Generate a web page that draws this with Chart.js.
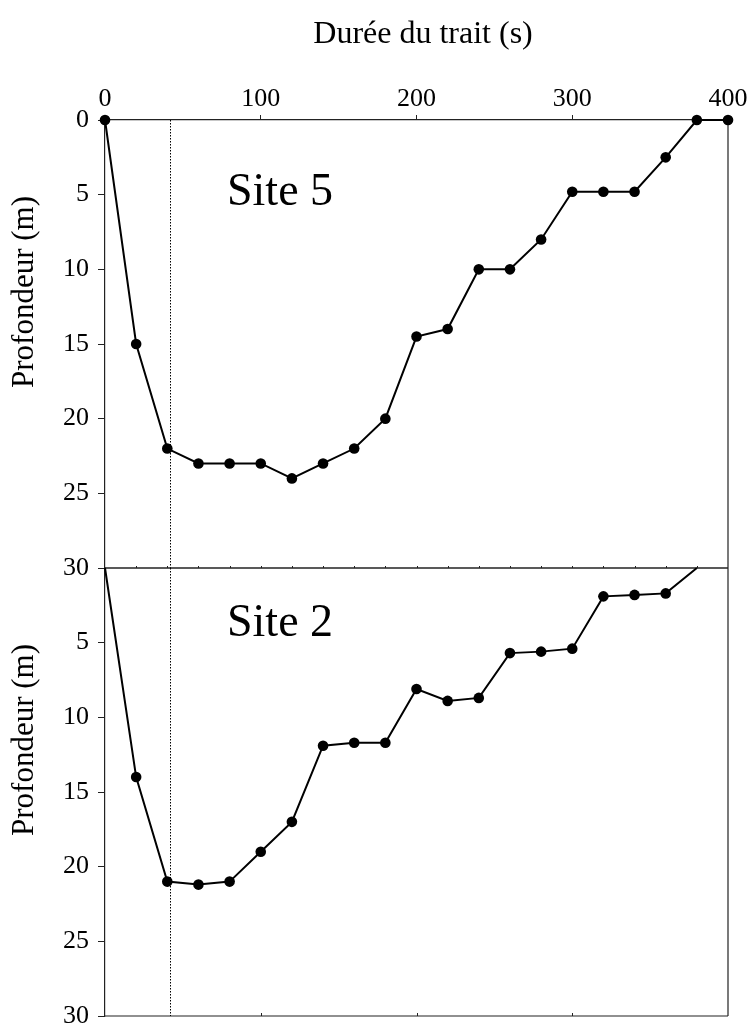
<!DOCTYPE html>
<html><head><meta charset="utf-8">
<script src="https://cdn.jsdelivr.net/npm/chart.js@4.4.0/dist/chart.umd.min.js"></script>
<style>
html,body{margin:0;padding:0;background:#fff;width:752px;height:1025px;overflow:hidden}
#wrap{position:relative;width:752px;height:1025px}
canvas{position:absolute;left:0}
</style></head><body>
<div id="wrap">
<canvas id="c1" width="752" height="600" style="top:0px"></canvas>
<canvas id="c2" width="752" height="515" style="top:530px"></canvas>
</div>
<script>
// ---- data ----
const durationsSite5 = [0,20,40,60,80,100,120,140,160,180,200,220,240,260,280,300,320,340,360,380,400];
const depthSite5     = [0,15,22,23,23,23,24,23,22,20,14.5,14,10,10,8,4.8,4.8,4.8,2.5,0,0];
const durationsSite2 = [0,20,40,60,80,100,120,140,160,180,200,220,240,260,280,300,320,340,360,380];
const depthSite2     = [0,14,21,21.2,21,19,17,11.9,11.7,11.7,8.1,8.9,8.7,5.7,5.6,5.4,1.9,1.8,1.7,0];
const xTickValues = [0,100,200,300,400];
const yTickValues = [0,5,10,15,20,25,30];
const refDuration = [42];
const xTitle = 'Durée du trait (s)';
const yTitle = 'Profondeur (m)';
const siteNames = ['Site 5','Site 2'];

const SERIF = "'Liberation Serif','Times New Roman',serif";

function pts(xs, ys){ return xs.map((x,i)=>({x:x, y:ys[i]})); }

function framePlugin(opts){
  return {
    id:'frame'+opts.name,
    beforeDatasetsDraw(chart){
      const ctx = chart.ctx, a = chart.chartArea, xs = chart.scales.x;
      ctx.save();
      ctx.strokeStyle = '#222'; ctx.lineWidth = 1.2;
      ctx.beginPath();
      ctx.moveTo(a.right, a.top); ctx.lineTo(a.right, a.bottom);
      ctx.moveTo(a.left, a.bottom); ctx.lineTo(a.right, a.bottom);
      if (opts.topLine){ ctx.moveTo(a.left, a.top); ctx.lineTo(a.right, a.top); }
      ctx.stroke();
      ctx.lineWidth = 1;
      if (opts.minorTop){
        ctx.beginPath();
        for (let v=20; v<400; v+=20){ const px = Math.round(xs.getPixelForValue(v))+0.5; ctx.moveTo(px, a.top); ctx.lineTo(px, a.top-2); }
        ctx.stroke();
      }
      if (opts.bottomTicks){
        ctx.beginPath();
        [100,200,300].forEach(v=>{ const px = Math.round(xs.getPixelForValue(v))+0.5; ctx.moveTo(px, a.bottom); ctx.lineTo(px, a.bottom-3); });
        ctx.stroke();
      }
      // dotted reference line
      ctx.strokeStyle = '#000'; ctx.lineWidth = 1; ctx.setLineDash([1.5,1.5]);
      refDuration.forEach(v=>{
        const px = Math.round(xs.getPixelForValue(v))+0.5;
        ctx.beginPath(); ctx.moveTo(px, a.top); ctx.lineTo(px, a.bottom); ctx.stroke();
      });
      ctx.restore();
    },
    afterDraw(chart){
      const ctx = chart.ctx, a = chart.chartArea;
      ctx.save();
      ctx.fillStyle = '#000';
      if (opts.title){
        ctx.font = '32px ' + SERIF; ctx.textAlign = 'center'; ctx.textBaseline = 'alphabetic';
        ctx.fillText(xTitle, 423, 43);
      }
      ctx.font = '46px ' + SERIF; ctx.textAlign = 'left'; ctx.textBaseline = 'alphabetic';
      ctx.fillText(opts.site, a.left + 122, a.top + opts.siteDy);
      ctx.translate(33, a.top + 172);
      ctx.rotate(-Math.PI/2);
      ctx.font = '31px ' + SERIF; ctx.textAlign = 'center'; ctx.textBaseline = 'alphabetic';
      ctx.fillText(yTitle, 0, 0);
      ctx.restore();
    }
  };
}

function makeOptions(isTop, padding){
  return {
    responsive:false, animation:false, devicePixelRatio:1, events:[],
    layout:{padding:padding},
    plugins:{legend:{display:false}, tooltip:{enabled:false}},
    scales:{
      x:{
        type:'linear', position: isTop ? 'top' : 'bottom', min:0, max:400,
        display: true,
        afterBuildTicks: s => { s.ticks = xTickValues.map(v=>({value:v})); },
        ticks:{ display:isTop, font:{family:SERIF, size:26}, color:'#000', padding:0, maxRotation:0, autoSkip:false },
        grid:{ display:isTop, drawOnChartArea:false, drawTicks:true, tickLength:5, color:'#222', lineWidth:1 },
        border:{ display:isTop, color:'#222', width:1.2 },
        afterFit: s => { s.height = isTop ? 120 : 0; }
      },
      y:{
        type:'linear', reverse:true, min:0, max:30,
        afterBuildTicks: s => { s.ticks = yTickValues.map(v=>({value:v})); },
        ticks:{ font:{family:SERIF, size:26}, color:'#000', padding:9,
          callback: v => (!isTop && v === 0) ? '' : String(v) },
        grid:{ drawOnChartArea:false, drawTicks:true, tickLength:7, color:'#222', lineWidth:1 },
        border:{ display:true, color:'#222', width:1.2 },
        afterFit: s => { s.width = 105; }
      }
    }
  };
}

const dsStyle = { borderColor:'#000', borderWidth:2, pointBackgroundColor:'#000', pointBorderColor:'#000',
  pointBorderWidth:0, pointRadius:5.3, tension:0, clip:false, showLine:true, fill:false };

new Chart(document.getElementById('c1'), {
  type:'line',
  data:{ datasets:[ Object.assign({ label:siteNames[0], data:pts(durationsSite5, depthSite5) }, dsStyle) ] },
  options: makeOptions(true, {left:0, right:24, top:0, bottom:32}),
  plugins:[ framePlugin({name:'A', title:true, site:siteNames[0], siteDy:85, topLine:false, minorTop:false, bottomTicks:false}) ]
});

const radii2 = depthSite2.map((v,i)=> (i===0 || i===depthSite2.length-1) ? 0 : 5.3);
new Chart(document.getElementById('c2'), {
  type:'line',
  data:{ datasets:[ Object.assign({}, dsStyle, { label:siteNames[1], data:pts(durationsSite2, depthSite2), pointRadius:radii2 }) ] },
  options: makeOptions(false, {left:0, right:24, top:38, bottom:29}),
  plugins:[ framePlugin({name:'B', title:false, site:siteNames[1], siteDy:68, topLine:true, minorTop:true, bottomTicks:true}) ]
});
</script>
</body></html>
